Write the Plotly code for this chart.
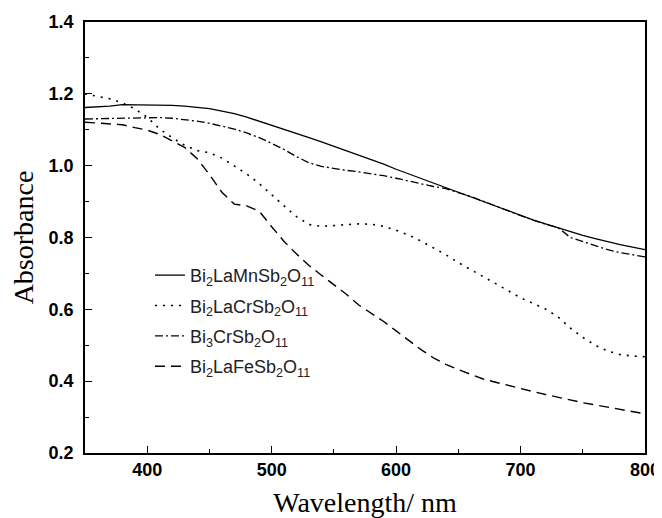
import plotly.graph_objects as go

wavelength = [350, 360, 370, 380, 390, 400, 410, 420, 430, 440, 450, 460, 470, 480, 490,
              500, 510, 520, 530, 540, 550, 560, 570, 580, 590, 600, 610, 620, 630, 640,
              650, 660, 670, 680, 690, 700, 710, 720, 730, 740, 750, 760, 770, 780, 790, 800]

abs_mn = [1.162, 1.163, 1.166, 1.170, 1.170, 1.170, 1.169, 1.168, 1.166, 1.163, 1.159, 1.152,
          1.145, 1.135, 1.124, 1.113, 1.102, 1.090, 1.078, 1.066, 1.054, 1.042, 1.030, 1.017,
          1.004, 0.990, 0.977, 0.964, 0.951, 0.938, 0.926, 0.913, 0.900, 0.887, 0.874, 0.861,
          0.849, 0.838, 0.827, 0.816, 0.806, 0.797, 0.788, 0.780, 0.773, 0.766]

abs_lacr = [1.200, 1.193, 1.186, 1.175, 1.158, 1.135, 1.102, 1.078, 1.057, 1.042, 1.036, 1.021,
            0.999, 0.977, 0.950, 0.918, 0.888, 0.858, 0.836, 0.831, 0.833, 0.836, 0.838, 0.837,
            0.831, 0.820, 0.807, 0.790, 0.771, 0.752, 0.730, 0.711, 0.692, 0.672, 0.652, 0.632,
            0.617, 0.601, 0.579, 0.548, 0.522, 0.500, 0.484, 0.474, 0.470, 0.468]

abs_bi3cr = [1.130, 1.131, 1.132, 1.133, 1.134, 1.134, 1.134, 1.132, 1.129, 1.124, 1.118, 1.111,
             1.102, 1.091, 1.078, 1.062, 1.045, 1.025, 1.008, 0.998, 0.992, 0.987, 0.983, 0.978,
             0.972, 0.965, 0.957, 0.950, 0.942, 0.936, 0.926, 0.914, 0.901, 0.888, 0.874, 0.860,
             0.848, 0.837, 0.828, 0.800, 0.789, 0.777, 0.766, 0.758, 0.752, 0.746]

abs_fe = [1.121, 1.119, 1.117, 1.114, 1.106, 1.099, 1.087, 1.070, 1.051, 1.020, 0.975, 0.926,
          0.893, 0.888, 0.873, 0.830, 0.789, 0.754, 0.722, 0.695, 0.669, 0.642, 0.612, 0.590,
          0.566, 0.540, 0.513, 0.488, 0.465, 0.447, 0.432, 0.418, 0.406, 0.397, 0.388, 0.378,
          0.371, 0.363, 0.355, 0.347, 0.340, 0.334, 0.328, 0.321, 0.315, 0.309]

names = ["Bi<sub>2</sub>LaMnSb<sub>2</sub>O<sub>11</sub>",
         "Bi<sub>2</sub>LaCrSb<sub>2</sub>O<sub>11</sub>",
         "Bi<sub>3</sub>CrSb<sub>2</sub>O<sub>11</sub>",
         "Bi<sub>2</sub>LaFeSb<sub>2</sub>O<sub>11</sub>"]

x_ticks = [400, 500, 600, 700, 800]
y_ticks = [0.2, 0.4, 0.6, 0.8, 1.0, 1.2, 1.4]
y_ticktext = ["0.2", "0.4", "0.6", "0.8", "1.0", "1.2", "1.4"]

series = [abs_mn, abs_lacr, abs_bi3cr, abs_fe]
dashes = ["solid", "2px,6px", "8px,3px,2px,3px", "10px,6px"]
widths = [1.3, 1.6, 1.3, 1.4]

fig = go.Figure()
for i, (name, ys, d, w) in enumerate(zip(names, series, dashes, widths)):
    fig.add_trace(go.Scatter(x=wavelength, y=ys, mode="lines", name=name,
                             legendgroup="g%d" % i,
                             line=dict(color="black", width=w, dash=d)))

fig.update_layout(
    width=654, height=510,
    margin=dict(l=77, r=17, t=14, b=65),
    paper_bgcolor="white", plot_bgcolor="white",
    showlegend=True,
    legend=dict(x=0.116, y=0.455, xanchor="left", yanchor="top",
                bgcolor="rgba(0,0,0,0)", tracegroupgap=4,
                font=dict(family="Liberation Sans, Arial, sans-serif", size=18, color="#222")),
)

fig.update_xaxes(
    range=[350, 800], tickvals=x_ticks, automargin=False,
    ticks="inside", ticklen=7, tickwidth=1.2, tickcolor="black",
    minor=dict(ticks="inside", ticklen=4, dtick=50, tick0=350, tickcolor="black", tickwidth=1),
    showline=True, linecolor="black", linewidth=1.6, mirror=True,
    showgrid=False, zeroline=False,
    tickfont=dict(family="Liberation Sans, Arial, sans-serif", size=18, color="black", weight="bold"),
    title=dict(text="Wavelength/ nm", standoff=19,
               font=dict(family="Liberation Serif, Times New Roman, serif", size=28, color="black")),
)
fig.update_yaxes(
    range=[0.2, 1.4], tickvals=y_ticks, ticktext=y_ticktext, automargin=False,
    ticks="inside", ticklen=7, tickwidth=1.2, tickcolor="black", ticklabelstandoff=6,
    minor=dict(ticks="inside", ticklen=4, dtick=0.1, tick0=0.2, tickcolor="black", tickwidth=1),
    showline=True, linecolor="black", linewidth=1.6, mirror=True,
    showgrid=False, zeroline=False,
    tickfont=dict(family="Liberation Sans, Arial, sans-serif", size=18, color="black", weight="bold"),
    title=dict(text="Absorbance", standoff=9,
               font=dict(family="Liberation Serif, Times New Roman, serif", size=28, color="black")),
)

fig.write_html("out.html")
